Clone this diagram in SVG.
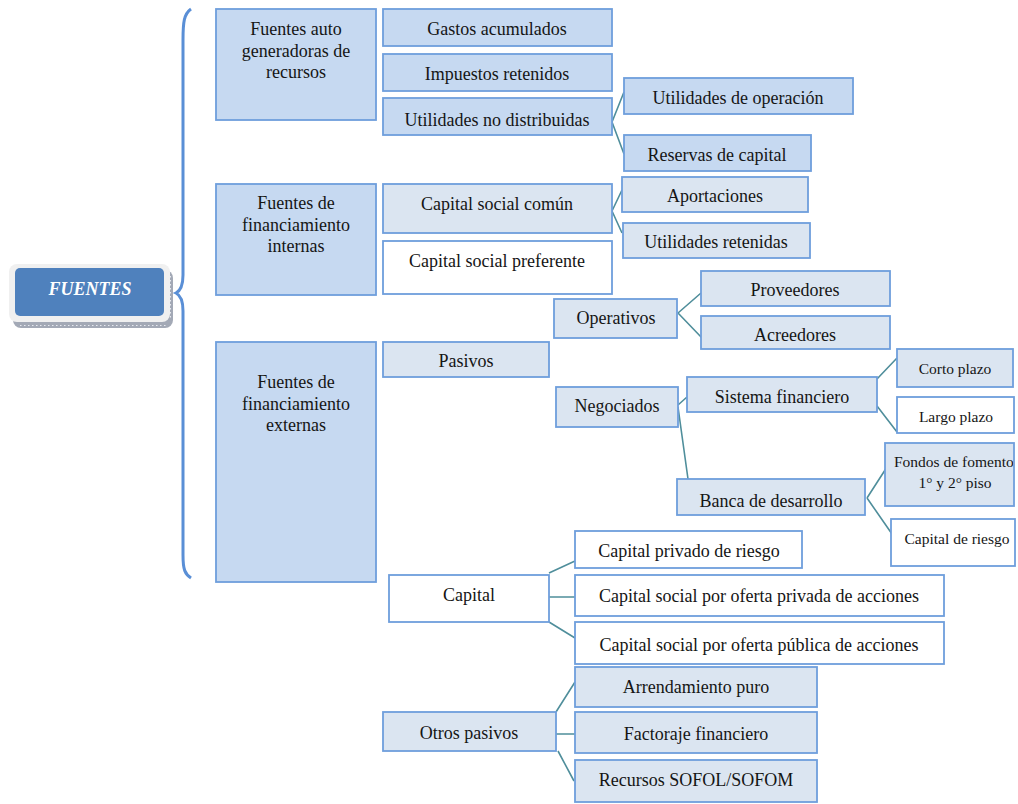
<svg xmlns="http://www.w3.org/2000/svg" width="1018" height="804" viewBox="0 0 1018 804">
<style>
rect.b{stroke:#6E9EDC;stroke-width:1.8}
.d{fill:#C6D9F1}
.l{fill:#DBE5F1}
.w{fill:#FFFFFF}
text{font-family:"Liberation Serif","Times New Roman",serif;font-size:18px;fill:#151515;text-anchor:middle}
text.s{font-size:15.5px}
.c{stroke:#4F8E9B;stroke-width:1.6;fill:none}
</style>
<defs>
<clipPath id="clipFondos"><rect x="886" y="444" width="127" height="61"/></clipPath>
</defs>
<rect width="1018" height="804" fill="#FFFFFF"/>

<g id="connectors">
<path class="c" d="M612,122 L624,92 M612,122 L624,154"/>
<path class="c" d="M612,211 L622,190 M612,211 L622,233"/>
<path class="c" d="M678,313 L701,293 M678,313 L702,338"/>
<path class="c" d="M678,405 L687,397 M678,407 L688,479"/>
<path class="c" d="M877,379 L897,358 M877,406 L897,432"/>
<path class="c" d="M867,498 L887,467 M867,498 L892,534"/>
<path class="c" d="M549,573 L575,561 M549,597 L575,597 M549,622 L575,638"/>
<path class="c" d="M556,712 L575,682 M554,734 L575,734 M558,751 L574,781"/>
<path d="M191,9 C184,14 183,22 183,40 L183,275 C183,287 180,291 176,293 C180,295 183,299 183,311 L183,555 C183,570 185,574 191,578" fill="none" stroke="#5A8FD6" stroke-width="3"/>
</g>

<g id="n-fuentes">
<rect x="13" y="270" width="160" height="58" rx="8" fill="#A3A9B6"/>
<line x1="20" y1="325.5" x2="166" y2="325.5" stroke="#E8EAF0" stroke-width="1" stroke-dasharray="1.5 2.5"/>
<line x1="170.5" y1="276" x2="170.5" y2="320" stroke="#E8EAF0" stroke-width="1" stroke-dasharray="1.5 2.5"/>
<rect x="9" y="264" width="161" height="58" rx="8" fill="#F0F0F0"/>
<rect x="15" y="268" width="149" height="48" rx="5" fill="#4F81BD"/>
<text x="90" y="295" style="fill:#FFFFFF;font-weight:bold;font-style:italic">FUENTES</text>
</g>

<g id="n-auto">
<rect class="b d" x="216" y="9" width="160" height="111"/>
<text x="296" y="35"><tspan x="296">Fuentes auto</tspan><tspan x="296" dy="21.5">generadoras de</tspan><tspan x="296" dy="21.5">recursos</tspan></text>
</g>
<g id="n-internas">
<rect class="b d" x="216" y="184" width="160" height="111"/>
<text x="296" y="209"><tspan x="296">Fuentes de</tspan><tspan x="296" dy="21.5">financiamiento</tspan><tspan x="296" dy="21.5">internas</tspan></text>
</g>
<g id="n-externas">
<rect class="b d" x="216" y="342" width="160" height="240"/>
<text x="296" y="388"><tspan x="296">Fuentes de</tspan><tspan x="296" dy="21.5">financiamiento</tspan><tspan x="296" dy="21.5">externas</tspan></text>
</g>

<g id="n-gastos">
<rect class="b d" x="383" y="9" width="229" height="37"/>
<text x="497" y="35">Gastos acumulados</text>
</g>
<g id="n-impuestos">
<rect class="b d" x="383" y="54" width="229" height="37"/>
<text x="497" y="80">Impuestos retenidos</text>
</g>
<g id="n-utilnodist">
<rect class="b d" x="383" y="98" width="229" height="37"/>
<text x="497" y="126">Utilidades no distribuidas</text>
</g>
<g id="n-utiloper">
<rect class="b d" x="624" y="78" width="229" height="36"/>
<text x="738" y="104">Utilidades de operación</text>
</g>
<g id="n-reservas">
<rect class="b d" x="624" y="135" width="187" height="36"/>
<text x="717" y="161">Reservas de capital</text>
</g>

<g id="n-capcomun">
<rect class="b l" x="383" y="184" width="229" height="49"/>
<text x="497" y="210">Capital social común</text>
</g>
<g id="n-cappref">
<rect class="b w" x="383" y="241" width="229" height="53"/>
<text x="497" y="267">Capital social preferente</text>
</g>
<g id="n-aportaciones">
<rect class="b l" x="622" y="177" width="186" height="35"/>
<text x="715" y="202">Aportaciones</text>
</g>
<g id="n-utilret">
<rect class="b l" x="623" y="223" width="187" height="35"/>
<text x="716" y="248">Utilidades retenidas</text>
</g>

<g id="n-pasivos">
<rect class="b l" x="383" y="342" width="166" height="35"/>
<text x="466" y="367">Pasivos</text>
</g>
<g id="n-operativos">
<rect class="b l" x="554" y="299" width="123" height="39"/>
<text x="616" y="324">Operativos</text>
</g>
<g id="n-proveedores">
<rect class="b l" x="701" y="271" width="189" height="35"/>
<text x="795" y="296">Proveedores</text>
</g>
<g id="n-acreedores">
<rect class="b l" x="701" y="316" width="189" height="33"/>
<text x="795" y="341">Acreedores</text>
</g>
<g id="n-negociados">
<rect class="b l" x="556" y="387" width="122" height="40"/>
<text x="617" y="412">Negociados</text>
</g>
<g id="n-sistema">
<rect class="b l" x="687" y="377" width="190" height="35"/>
<text x="782" y="403">Sistema financiero</text>
</g>
<g id="n-corto">
<rect class="b l" x="897" y="349" width="116" height="38"/>
<text class="s" x="955" y="374">Corto plazo</text>
</g>
<g id="n-largo">
<rect class="b w" x="897" y="397" width="117" height="36"/>
<text class="s" x="956" y="422">Largo plazo</text>
</g>
<g id="n-banca">
<rect class="b l" x="677" y="479" width="188" height="36"/>
<text x="771" y="507">Banca de desarrollo</text>
</g>
<g id="n-fondos">
<rect class="b l" x="885" y="443" width="129" height="63"/>
<text class="s" x="894" y="467" clip-path="url(#clipFondos)" style="text-anchor:start">Fondos de fomento</text>
<text class="s" x="955" y="488">1° y 2° piso</text>
</g>
<g id="n-capriesgo">
<rect class="b w" x="891" y="519" width="124" height="47"/>
<text class="s" x="957" y="544">Capital de riesgo</text>
</g>

<g id="n-capital">
<rect class="b w" x="389" y="575" width="160" height="47"/>
<text x="469" y="601">Capital</text>
</g>
<g id="n-capprivado">
<rect class="b w" x="575" y="531" width="227" height="37"/>
<text x="689" y="557">Capital privado de riesgo</text>
</g>
<g id="n-capsocpriv">
<rect class="b w" x="575" y="575" width="369" height="41"/>
<text x="759" y="602">Capital social por oferta privada de acciones</text>
</g>
<g id="n-capsocpub">
<rect class="b w" x="575" y="622" width="369" height="42"/>
<text x="759" y="651">Capital social por oferta pública de acciones</text>
</g>

<g id="n-otros">
<rect class="b l" x="383" y="712" width="173" height="39"/>
<text x="469" y="739">Otros pasivos</text>
</g>
<g id="n-arrendamiento">
<rect class="b l" x="575" y="667" width="242" height="40"/>
<text x="696" y="693">Arrendamiento puro</text>
</g>
<g id="n-factoraje">
<rect class="b l" x="575" y="712" width="242" height="41"/>
<text x="696" y="740">Factoraje financiero</text>
</g>
<g id="n-recursos">
<rect class="b l" x="575" y="760" width="242" height="42"/>
<text x="696" y="786">Recursos SOFOL/SOFOM</text>
</g>
</svg>
